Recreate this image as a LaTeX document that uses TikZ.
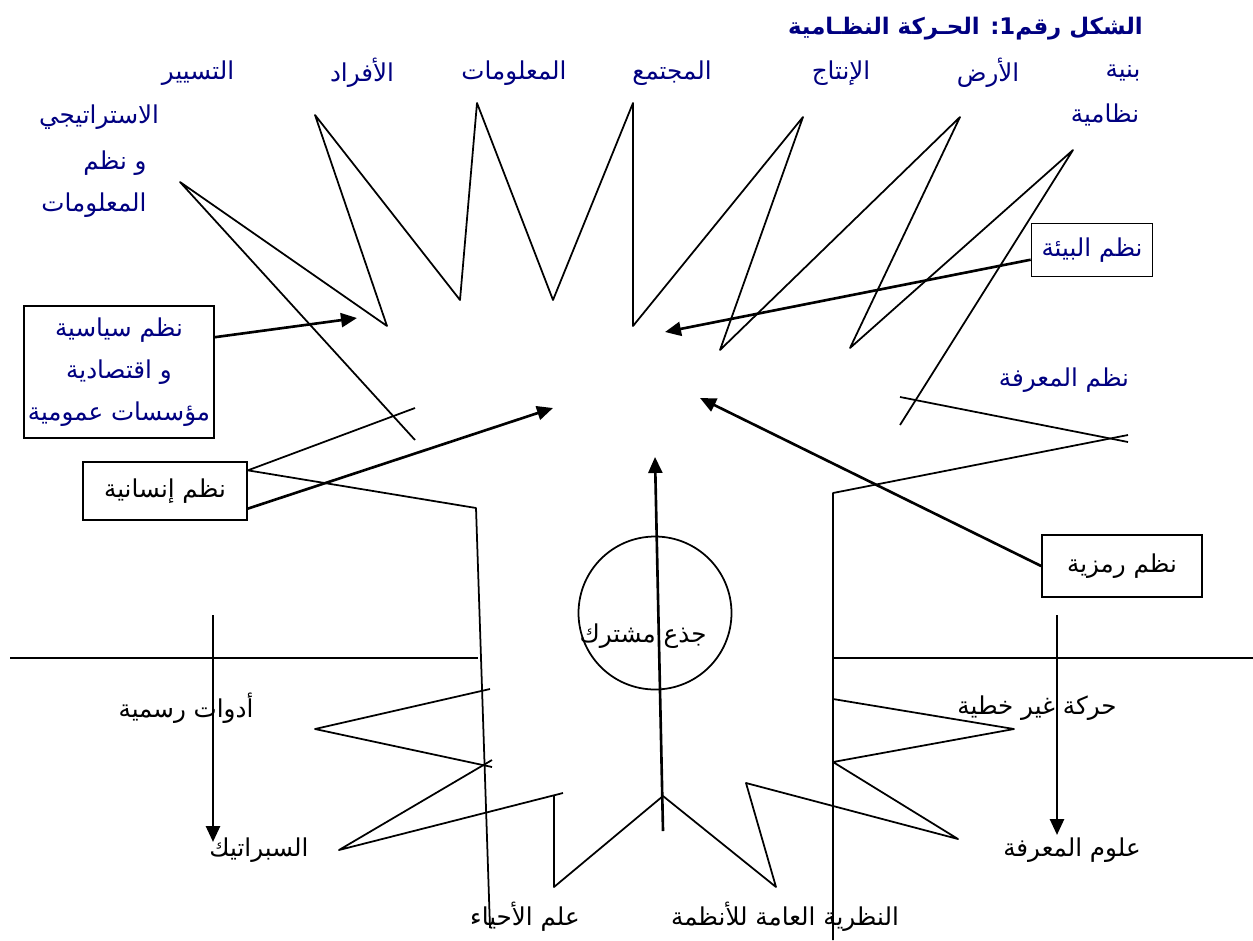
\documentclass[tikz,border=0pt]{standalone}
\usepackage{fontspec}
\usepackage{xcolor}
\usepackage{tikz}
\usetikzlibrary{arrows.meta}
\newfontfamily\arabicfont[Script=Arabic]{DejaVu Sans}
\TeXXeTstate=1
\definecolor{navy}{HTML}{000080}
\newcommand{\rl}[1]{\beginR #1\endR}

\tikzset{
  lbl/.style={inner sep=0pt, font=\arabicfont\fontsize{14}{24}\selectfont},
  bluelbl/.style={lbl, text=navy},
  box/.style={draw, line width=1pt, inner sep=2pt, align=center,
              font=\arabicfont\fontsize{14}{24}\selectfont},
  crown/.style={line width=1pt, line join=round},
  push/.style={line width=1.5pt, -{Triangle[length=0.32cm,width=0.28cm]}}
}

\begin{document}
\begin{tikzpicture}[x=0.02cm, y=-0.02cm]
  \useasboundingbox (0,0) rectangle (1253,940);

  \node[bluelbl, anchor=east, font=\arabicfont\bfseries\fontsize{13}{24}\selectfont] (title) at (1143,29)
       {\rl{الشكل رقم\kern0pt1\kern0pt: الحـركة النظـامية}};

  \node[bluelbl] (binya) at (1123,73) {\rl{بنية}};
  \node[bluelbl] (nidamiya) at (1105,115) {\rl{نظامية}};
  \node[bluelbl] (ard) at (988,73) {\rl{الأرض}};
  \node[bluelbl] (intaj) at (841,73) {\rl{الإنتاج}};
  \node[bluelbl] (mujtama) at (672,73) {\rl{المجتمع}};
  \node[bluelbl] (maalumat) at (514,73) {\rl{المعلومات}};
  \node[bluelbl] (afrad) at (362,73) {\rl{الأفراد}};
  \node[bluelbl] (tasyir) at (198,73) {\rl{التسيير}};
  \node[bluelbl] (strat) at (99,117) {\rl{الاستراتيجي}};
  \node[bluelbl] (wanudum) at (115,163) {\rl{و نظم}};
  \node[bluelbl] (maalumatb) at (94,205) {\rl{المعلومات}};
  \node[bluelbl] (marifa) at (1064,380) {\rl{نظم المعرفة}};

  \node[box, text=navy, minimum width=3.76cm, minimum height=2.64cm] (polbox) at (119,372)
       {\rl{نظم سياسية}\\ \rl{و اقتصادية}\\ \rl{مؤسسات عمومية}};
  \node[box, minimum width=3.28cm, minimum height=1.16cm] (humbox) at (165,491) {\rl{نظم إنسانية}};
  \node[box, text=navy, minimum width=2.42cm, minimum height=1.06cm] (envbox) at (1092,250) {\rl{نظم البيئة}};
  \node[box, minimum width=3.2cm, minimum height=1.24cm] (symbox) at (1122,566) {\rl{نظم رمزية}};

  \node[lbl] (adawat) at (186,708) {\rl{أدوات رسمية}};
  \node[lbl] (sibratik) at (259,850) {\rl{السبراتيك}};
  \node[lbl] (ahya) at (525,917) {\rl{علم الأحياء}};
  \node[lbl] (nadariya) at (785,917) {\rl{النظرية العامة للأنظمة}};
  \node[lbl] (ulum) at (1072,850) {\rl{علوم المعرفة}};
  \node[lbl] (haraka) at (1037,708) {\rl{حركة غير خطية}};

  \node[draw, circle, line width=1pt, minimum size=3.06cm] (core) at (655,613) {};
  \node[lbl] (jidh) at (643,636) {\rl{جذع مشترك}};

  \coordinate (tippol) at (357,318);
  \coordinate (tiphum) at (553,408);
  \coordinate (tipenv) at (665,332);
  \coordinate (tipsym) at (700,398);
  \coordinate (tiptrunk) at (655,457);
  \coordinate (trunkfoot) at (663,831);
  \coordinate (lftop) at (213,615);
  \coordinate (lfend) at (213,842);
  \coordinate (rttop) at (1057,615);
  \coordinate (rtend) at (1057,835);

  \draw[crown] (900,425) -- (1073,150) -- (850,348) -- (960,117) -- (720,350) -- (803,117)
    -- (633,326) -- (633,103) -- (553,300) -- (477,103) -- (460,300) -- (315,115)
    -- (387,326) -- (180,182) -- (415,440);
  \draw[crown] (900,397) -- (1128,442);
  \draw[crown] (1128,435) -- (833,493) -- (833,940);
  \draw[crown] (415,408) -- (humbox.14) -- (476,508) -- (490,928);

  \draw[crown] (10,658) -- (478,658);
  \draw[crown] (833,658) -- (1253,658);

  \draw[crown] (490,689) -- (315,729) -- (492,767);
  \draw[crown] (492,760) -- (339,850) -- (563,793);
  \draw[crown] (554,796) -- (554,887) -- (663,796) -- (776,887) -- (746,783)
    -- (958,839) -- (833,762) -- (1014,729) -- (833,699);

  \draw[push] (polbox.20) -- (tippol);
  \draw[push] (humbox.-12) -- (tiphum);
  \draw[push] (envbox.189) -- (tipenv);
  \draw[push] (symbox.west) -- (tipsym);
  \draw[push] (trunkfoot) -- (tiptrunk);
  \draw[push] (lftop) -- (lfend);
  \draw[push] (rttop) -- (rtend);
\end{tikzpicture}
\end{document}
